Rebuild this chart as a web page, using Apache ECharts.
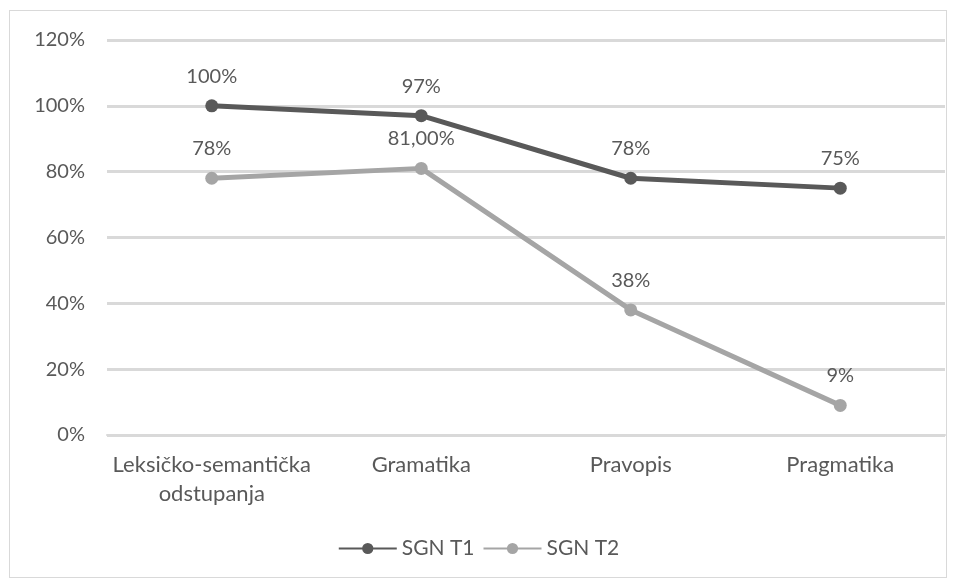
<!DOCTYPE html>
<html><head><meta charset="utf-8">
<script src="https://cdn.jsdelivr.net/npm/echarts@6/dist/echarts.min.js"></script>
<style>html,body{margin:0;padding:0;background:#fff}#c{width:957px;height:581px}
#frame{position:absolute;left:9px;top:10px;width:938px;height:568px;border:1px solid #d9d9d9;box-sizing:border-box;pointer-events:none}</style>
</head><body><div id="c"></div><div id="frame"></div>
<script>
const categories = ['Leksičko-semantička\nodstupanja', 'Gramatika', 'Pravopis', 'Pragmatika'];
const seriesNames = ['SGN T1', 'SGN T2'];
const t1 = [100, 97, 78, 75];
const t2 = [78, 81, 38, 9];
const t1Labels = ['100%', '97%', '78%', '75%'];
const t2Labels = ['78%', '81,00%', '38%', '9%'];
const yTicks = [0, 20, 40, 60, 80, 100, 120];

const font = 'Lato, "Open Sans", sans-serif';
const fs = 20;
const chart = echarts.init(document.getElementById('c'));
function mk(name, data, labels, color) {
  return {
    name, type: 'line', data,
    symbol: 'circle', symbolSize: 13,
    lineStyle: { color, width: 5 },
    itemStyle: { color },
    label: { show: true, position: 'top', distance: 13, color: '#595959', fontSize: fs, fontFamily: font,
      formatter: p => labels[p.dataIndex] },
    animation: false
  };
}
chart.setOption({
  animation: false,
  grid: { left: 107, right: 12, top: 40, bottom: 146 },
  legend: {
    bottom: 17, left: 'center', itemWidth: 58, itemHeight: 14, itemGap: 8,
    textStyle: { color: '#595959', fontSize: 21, fontFamily: font },
    data: seriesNames
  },
  xAxis: {
    type: 'category', data: categories, boundaryGap: true,
    axisLine: { show: true, lineStyle: { color: '#d9d9d9', width: 2 } },
    axisTick: { show: false },
    axisLabel: { interval: 0, color: '#595959', fontSize: 22, fontFamily: font, margin: 15, lineHeight: 29 }
  },
  yAxis: {
    type: 'value', min: yTicks[0], max: yTicks[yTicks.length - 1], interval: 20,
    axisLine: { show: false }, axisTick: { show: false },
    splitLine: { lineStyle: { color: '#d9d9d9', width: 3 } },
    axisLabel: { color: '#595959', fontSize: fs, fontFamily: font, margin: 22, formatter: v => v + '%' }
  },
  series: [mk(seriesNames[0], t1, t1Labels, '#595959'), mk(seriesNames[1], t2, t2Labels, '#a5a5a5')]
});
</script></body></html>
